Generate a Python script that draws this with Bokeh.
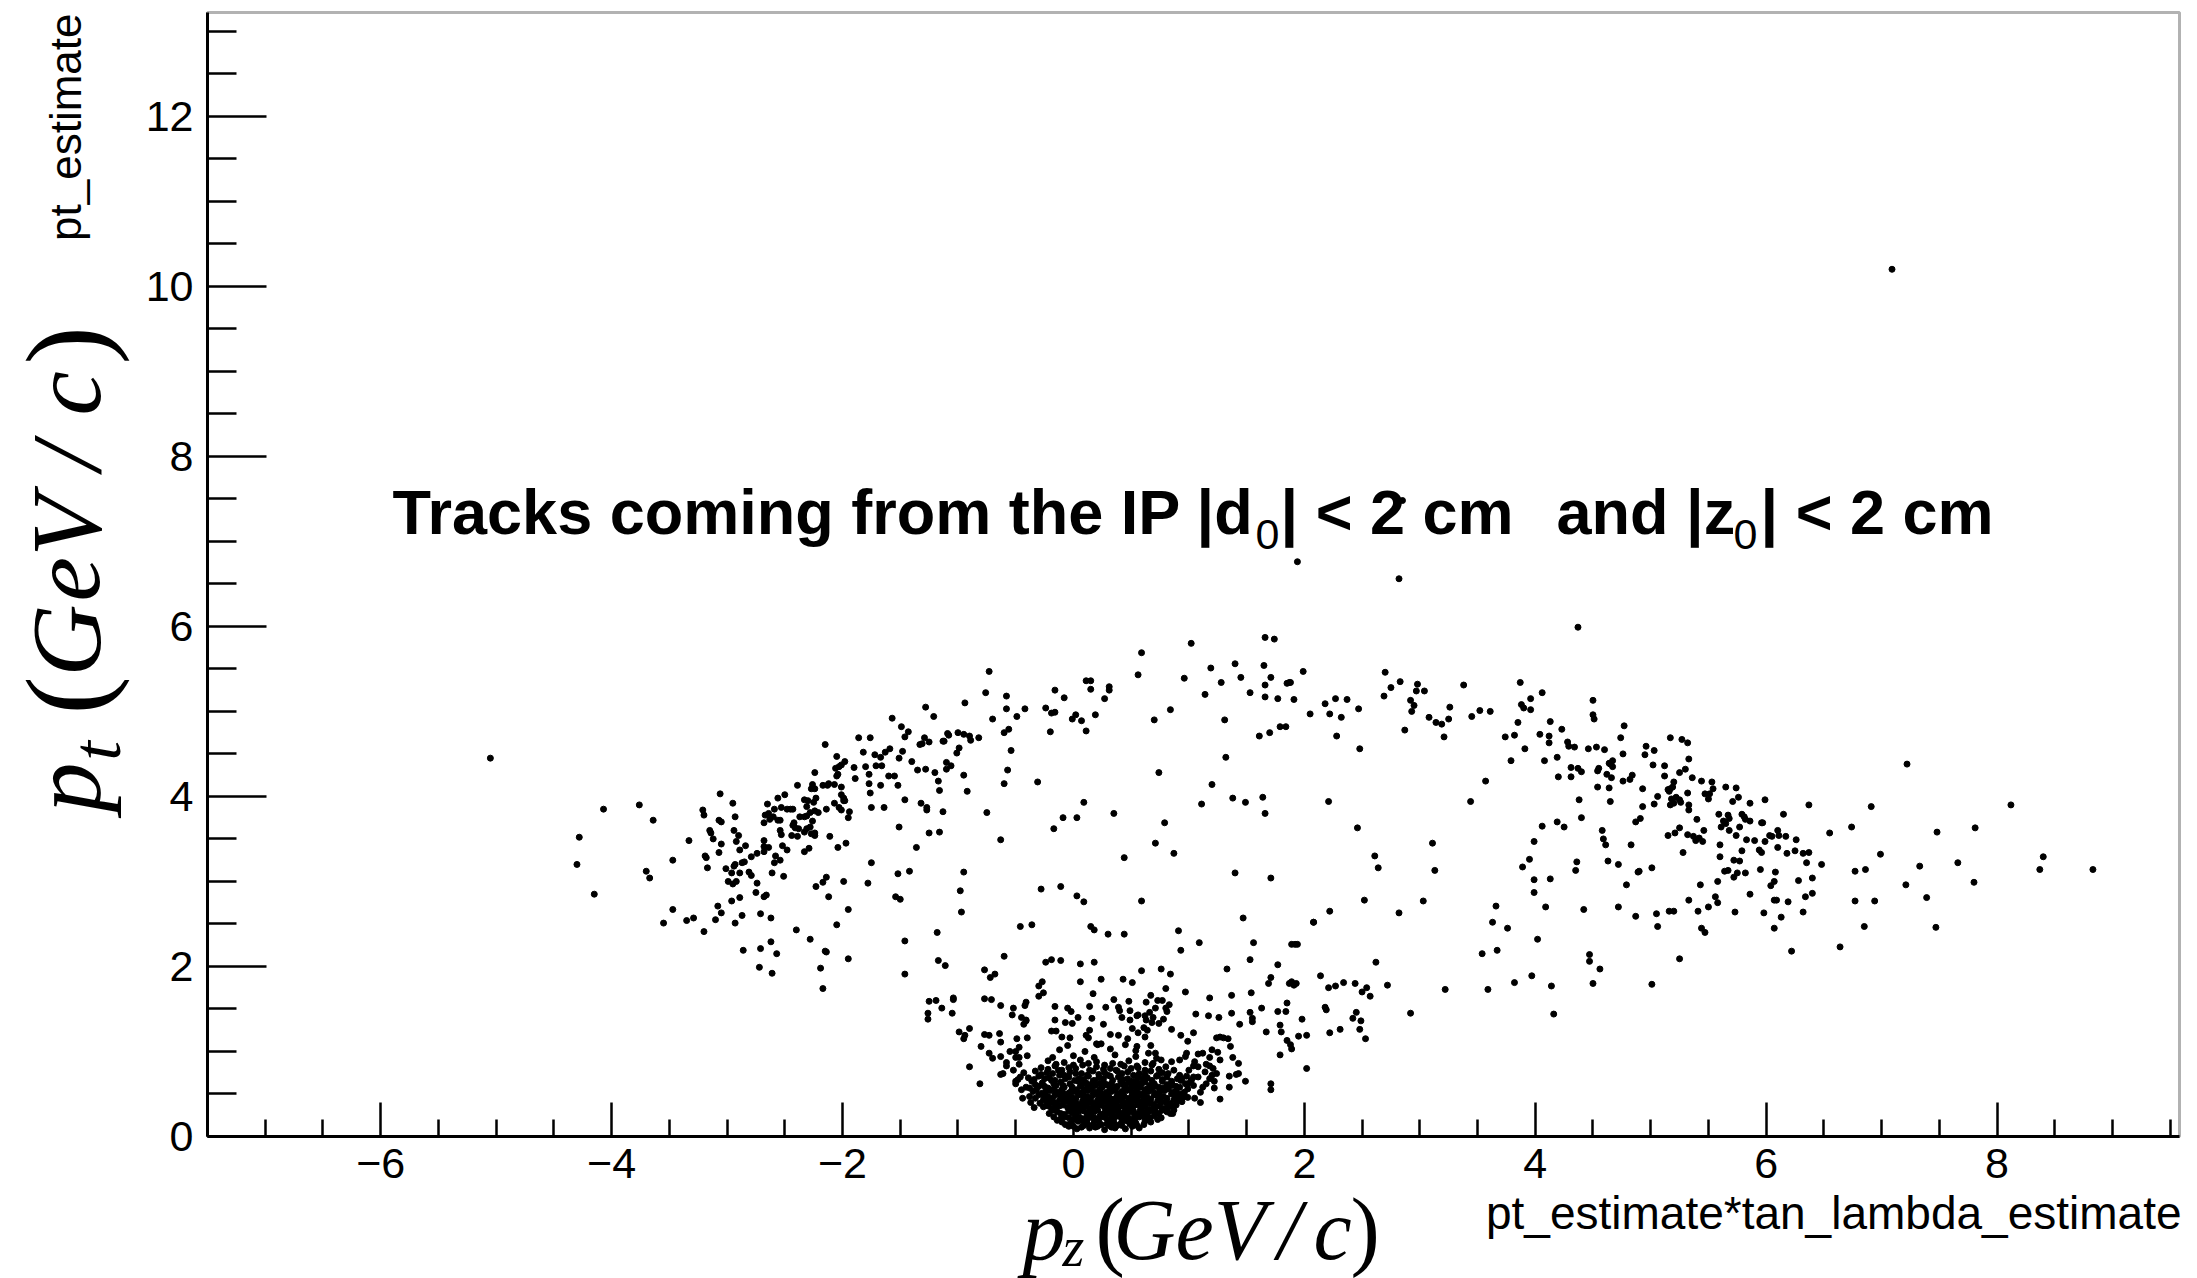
import math
from bokeh.plotting import figure
from bokeh.models import Range1d, FixedTicker, Label, ColumnDataSource, BoxAnnotation
from bokeh.embed import file_html
from bokeh.resources import INLINE

# ---------------- data (pz, pt) ----------------
band_neg_top = [
(-0.73,5.47),(-0.76,5.22),(-0.58,5.18),(-0.58,5.03),(-0.70,4.91),(-0.42,5.03),(-0.49,4.94),(-0.94,5.10),(-1.28,5.05),(-1.21,4.94),
(-1.57,4.92),(-1.49,4.82),(-1.43,4.76),(-1.46,4.70),(-1.29,4.69),(-1.25,4.64),(-1.33,4.61),(-1.31,4.62),(-1.09,4.74),(-1.08,4.72),
(-1.00,4.75),(-0.95,4.73),(-0.90,4.71),(-0.89,4.66),(-0.82,4.69),(-1.12,4.65),(-1.13,4.65),(-0.99,4.57),(-1.01,4.51),(-0.60,4.75),
(-0.56,4.79),(-0.54,4.54),(-0.57,4.31),(-0.60,4.15),(-0.31,4.17),(-0.75,3.81),(-0.63,3.49),(-0.16,5.25),(-0.08,5.16),(-0.24,5.04),
(-0.19,4.98),(-0.16,4.99),(-0.20,4.76),(-0.01,4.91),
]
band_neg_mid = [
(-1.86,4.69),(-1.76,4.69),(-2.15,4.61),(-1.82,4.52),(-1.72,4.49),(-1.67,4.46),(-1.63,4.52),(-1.59,4.56),(-1.48,4.53),(-1.51,4.45),
(-1.40,4.41),(-1.35,4.31),(-1.28,4.32),(-1.20,4.28),(-1.17,4.18),(-1.16,4.07),(-1.10,4.40),(-1.06,4.36),(-1.10,4.32),(-0.95,4.25),
(-0.92,4.06),(-1.80,4.35),(-1.71,4.36),(-1.66,4.36),(-1.60,4.24),(-1.55,4.24),(-1.77,4.26),(-1.77,4.15),(-1.67,4.13),(-1.52,4.13),
(-1.76,4.04),(-1.75,3.87),(-1.64,3.87),(-1.46,3.96),(-1.32,3.92),(-1.27,3.87),(-1.27,3.84),(-1.13,3.82),(-1.90,4.34),(-1.89,4.21),
(-2.05,4.47),(-1.98,4.41),(-2.01,4.37),(-2.06,4.33),(-2.03,4.35),(-2.04,4.26),(-2.05,4.24),(-2.24,4.28),(-2.39,4.13),(-2.26,4.14),
(-2.27,4.09),(-2.24,4.09),(-2.17,4.13),(-2.12,4.15),(-2.13,4.13),(-2.07,4.14),(-2.01,4.11),(-2.01,4.02),(-1.99,3.98),(-1.99,3.95),
(-1.98,3.95),(-2.07,3.92),(-2.03,3.87),(-2.01,3.84),(-1.94,3.82),(-1.95,3.75),(-2.14,3.85),(-2.23,3.98),(-2.25,3.93),(-2.33,3.96),
(-2.30,3.95),(-2.31,3.88),(-2.33,3.76),(-2.31,3.77),(-2.37,3.76),(-2.24,3.83),(-2.21,3.81),(-2.28,3.81),(-2.26,3.71),(-2.28,3.64),
(-2.24,3.57),(-2.24,3.54),(-2.27,3.56),(-2.33,3.58),(-2.31,3.62),(-2.42,3.69),(-2.43,3.66),(-2.41,3.63),(-2.38,3.62),(-2.44,3.54),
(-2.39,3.53),(-2.50,4.02),(-2.56,3.98),(-2.65,3.91),(-2.68,3.69),(-2.67,3.78),(-2.64,3.80),(-2.63,3.73),(-2.59,3.85),(-2.60,3.76),
(-2.56,3.72),(-2.54,3.72),(-2.53,3.87),(-2.48,3.85),(-2.45,3.85),(-2.43,3.85),(-2.54,3.60),(-2.53,3.55),(-2.52,3.42),(-2.48,3.37),
(-2.58,3.30),(-2.68,3.48),(-2.68,3.41),(-2.68,3.35),(-2.64,3.40),(-2.59,3.22),(-2.54,3.25),(-2.61,3.10),(-2.51,3.06),(-2.74,3.33),
(-2.79,3.29),(-2.84,3.42),(-2.85,3.23),(-2.87,3.22),(-2.94,3.60),(-2.90,3.54),(-2.92,3.47),(-2.93,3.76),(-2.95,3.92),(-3.06,4.03),
(-3.21,3.84),(-3.20,3.78),(-3.07,3.72),(-3.05,3.70),(-3.15,3.60),(-3.14,3.57),(-3.12,3.50),(-3.05,3.44),(-3.07,3.34),(-3.19,3.30),
(-3.18,3.28),(-3.17,3.16),(-3.33,3.48),(-3.47,3.25),(-3.64,3.72),(-3.76,3.90),(-4.07,3.85),(-4.28,3.52),(-4.30,3.20),(-4.15,2.85),
(-3.70,3.12),(-3.67,3.04),(-3.01,3.15),(-2.96,3.10),(-2.93,3.20),(-2.94,3.18),(-2.99,3.00),(-2.95,2.97),(-2.92,3.00),(-2.89,3.10),
(-2.89,3.37),(-2.81,3.11),(-2.79,3.07),(-2.74,2.98),(-2.75,2.87),(-2.68,2.82),(-2.66,2.84),(-2.96,2.77),(-2.89,2.81),(-3.08,2.71),
(-3.05,2.63),(-3.10,2.55),(-2.93,2.51),(-2.87,2.60),(-2.71,2.62),(-2.62,2.57),(-3.20,2.41),(-3.29,2.57),(-3.35,2.54),(-3.47,2.67),
(-3.55,2.51),
]
band_neg_low = [
(-2.11,3.53),(-2.04,3.40),(-1.97,3.45),(-2.33,3.35),(-2.29,3.39),(-1.75,3.22),(-1.78,2.98),(-1.52,3.09),(-1.42,3.12),(-1.51,3.64),
(-1.25,3.57),(-1.16,3.58),(-1.36,3.40),(-2.14,3.05),(-2.17,2.99),(-2.23,2.94),(-1.99,3.00),(-2.12,2.82),(-1.95,2.67),(-2.05,2.49),
(-1.54,2.82),(-1.50,2.79),(-0.95,3.11),(-0.98,2.89),(-0.97,2.64),(-0.28,2.91),(-0.11,2.94),(-0.17,3.62),(-0.09,3.75),
(-2.40,2.43),(-2.28,2.32),(-2.62,2.29),(-2.71,2.21),(-2.86,2.19),(-2.57,2.15),(-2.15,2.18),(-2.14,2.17),(-1.95,2.09),(-2.19,1.98),
(-2.72,1.99),(-2.61,1.92),(-2.17,1.74),
]
band_pos_mid = [
(0.11,5.36),(0.15,5.36),(0.15,5.26),(0.02,4.96),(0.07,4.89),(0.19,4.96),(0.11,4.77),(0.27,5.15),(0.31,5.29),(0.31,5.25),
(0.56,5.43),(0.59,5.69),(1.02,5.80),(0.96,5.39),(0.84,5.02),(0.70,4.90),(1.14,5.20),(1.19,5.51),(1.28,5.34),(1.40,5.56),
(1.45,5.40),(1.53,5.22),(1.65,5.54),(1.66,5.87),(1.74,5.85),(1.71,5.40),(1.66,5.31),(1.66,5.17),(1.77,5.15),(1.85,5.33),
(1.87,5.34),(1.88,5.34),(1.91,5.14),(1.99,5.47),(1.31,4.90),(1.61,4.71),(1.70,4.75),(1.79,4.82),(1.84,4.82),(2.05,4.97),
(2.18,5.09),(2.22,4.97),(2.27,5.15),(2.37,5.14),(2.32,4.93),(2.28,4.71),(2.47,5.03),(2.48,4.56),(1.32,4.46),(0.74,4.28),
(1.20,4.14),(1.11,3.91),(1.38,3.98),(1.49,3.93),(1.64,3.99),(1.66,3.80),(2.21,3.94),(2.46,3.63),(2.70,5.46),(2.75,5.28),
(2.69,5.18),(2.83,5.35),(2.92,5.13),(2.95,5.07),(2.93,5.00),(2.98,5.32),(2.97,5.24),(3.04,5.24),(3.08,4.93),(3.14,4.87),
(3.19,4.85),(3.25,4.91),(3.26,5.05),(3.21,4.70),(2.87,4.78),(3.38,5.31),(3.45,4.94),(3.52,5.01),(3.61,5.00),(3.87,5.34),
(3.96,5.15),(3.88,5.08),(3.90,5.04),(3.96,5.02),(4.06,5.22),(3.85,4.87),(3.74,4.70),(3.82,4.72),(3.91,4.56),(4.04,4.73),
(4.13,4.88),(4.12,4.71),(4.12,4.63),(4.08,4.42),(4.19,4.46),(3.79,4.42),(3.57,4.18),(3.44,3.94),(4.23,4.79),(4.28,4.64),
(4.29,4.59),(4.34,4.58),(4.31,4.34),(4.37,4.33),(4.31,4.23),(4.20,4.23),(4.38,3.96),(4.40,3.75),(4.25,3.64),(4.19,3.70),
(4.06,3.65),(3.99,3.47),(3.95,3.26),(3.89,3.17),(3.99,3.02),(3.99,2.87),(4.13,3.03),(4.09,2.70),(4.36,3.23),(4.35,3.13),
(4.37,5.99),
(0.03,3.75),(0.09,3.93),(0.35,3.80),(0.79,3.69),(0.71,3.45),(0.87,3.33),(0.44,3.28),(0.03,2.83),(0.09,2.76),(0.59,2.77),
(1.40,3.10),(1.71,3.04),(2.61,3.30),(2.64,3.16),(3.11,3.45),(3.13,3.13),(2.52,2.78),(2.22,2.65),(2.08,2.52),(1.47,2.57),
(3.03,2.77),(2.82,2.63),(3.66,2.71),(3.63,2.52),(3.76,2.45),(4.02,2.32),(3.67,2.19),(3.54,2.15),(3.97,1.89),(3.82,1.81),
(3.59,1.73),(4.14,1.77),(3.22,1.73),(4.16,1.44),(2.92,1.45),
]
band_pos_right = [
(4.40,4.29),(4.50,5.13),(4.50,4.96),(4.51,4.91),(4.46,4.56),(4.53,4.58),(4.60,4.55),(4.54,4.30),(4.55,4.33),(4.62,4.26),
(4.65,4.38),(4.67,4.35),(4.67,4.42),(4.64,4.39),(4.66,4.22),(4.54,4.11),(4.64,4.10),(4.65,3.94),(4.58,3.60),(4.59,3.50),
(4.61,3.43),(4.63,3.24),(4.72,3.20),(4.42,2.67),(4.74,4.69),(4.77,4.83),(4.76,4.50),(4.76,4.18),(4.84,4.25),(4.82,4.20),
(4.93,4.09),(4.96,4.59),(4.95,4.49),(5.03,4.54),(5.02,4.37),(5.12,4.36),(5.12,4.24),(5.17,4.69),(5.27,4.67),(5.32,4.63),
(5.33,4.44),(5.30,4.32),(5.25,4.28),(5.20,4.17),(5.15,4.08),(5.17,4.09),(5.19,4.11),(5.16,4.06),(5.18,3.97),(5.22,3.99),
(5.25,3.96),(5.26,3.93),(5.20,3.92),(5.17,3.90),(5.06,4.00),(5.03,3.91),(4.93,3.88),(4.91,3.74),(4.87,3.70),(4.83,3.43),
(4.79,2.96),(4.89,3.11),(4.90,3.12),(5.01,3.16),(4.72,2.70),(4.87,2.59),(5.05,2.62),(5.06,2.47),(5.16,2.65),(5.20,2.65),
(5.32,4.04),(5.33,3.90),(5.33,3.84),(5.36,4.22),(5.40,3.73),(5.44,4.18),(5.47,4.03),(5.51,4.03),(5.50,3.97),(5.53,4.17),
(5.54,4.09),(5.65,4.11),(5.74,4.10),(5.76,3.99),(5.71,3.94),(5.86,3.92),(5.99,3.96),(5.59,3.79),(5.67,3.78),(5.68,3.74),
(5.63,3.71),(5.65,3.68),(5.61,3.64),(5.68,3.60),(5.77,3.64),(5.79,3.79),(5.81,3.76),(5.82,3.73),(5.86,3.71),(5.74,3.54),
(5.83,3.49),(5.90,3.48),(5.96,3.69),(5.97,3.69),(5.99,3.47),(6.03,3.54),(6.05,3.53),(6.10,3.60),(6.11,3.54),(6.17,3.53),
(6.26,3.49),(6.15,3.79),(6.10,3.40),(6.18,3.33),(6.25,3.36),(6.32,3.33),(6.37,3.34),(6.35,3.22),(6.48,3.20),(6.40,3.04),
(6.28,3.01),(6.40,2.86),(6.34,2.82),(6.19,2.76),(6.32,2.64),(6.13,2.58),(6.07,2.45),(5.98,2.63),(6.07,2.78),(6.09,2.78),
(6.07,3.00),(6.04,2.95),(6.08,3.11),(5.95,3.14),(5.96,3.34),(5.94,3.37),(5.79,3.36),(5.82,3.10),(5.75,3.10),(5.72,3.05),
(5.77,3.24),(5.72,3.25),(5.67,3.13),(5.64,3.12),(5.60,3.29),(5.60,3.43),(5.58,3.00),(5.56,2.82),(5.58,2.75),(5.50,2.70),
(5.41,2.65),(5.43,2.96),(5.33,2.78),(5.25,3.63),(5.21,3.57),(5.15,3.54),(5.32,3.55),(5.37,3.53),(5.39,3.48),(5.42,3.51),
(5.45,3.47),(5.46,3.60),(5.28,3.34),(5.73,2.64),(5.86,2.85),(5.44,2.45),(5.47,2.40),(5.25,2.09),(5.01,1.79),(4.50,1.80),
(4.56,1.97),(4.47,2.14),(4.47,2.06),(6.22,2.18),(6.64,2.23),(6.37,3.90),(6.55,3.57),(6.74,3.64),(6.77,3.12),(6.86,3.14),
(6.99,3.32),(6.77,2.77),(6.94,2.77),(6.85,2.47),(6.91,3.88),(7.22,4.38),(7.33,3.18),(7.21,2.96),(7.39,2.81),(7.47,2.46),
(7.48,3.58),(7.66,3.22),(7.81,3.63),(7.80,2.99),(8.12,3.90),(8.37,3.14),(8.40,3.29),(8.83,3.14),
]
low_spread = [
(-1.46,2.30),(-1.46,1.91),(-1.18,2.40),(-1.17,2.07),(-1.11,2.01),(-0.46,2.47),(-0.36,2.49),(0.15,2.47),(0.18,2.43),(0.30,2.38),
(0.44,2.38),(0.91,2.42),(0.93,2.19),(1.09,2.28),(1.56,2.28),(1.53,2.08),(1.77,2.02),(1.89,2.26),(1.92,2.26),(1.94,2.26),
(2.08,2.52),(2.62,2.05),(2.72,1.78),(2.14,1.89),(2.21,1.75),(2.27,1.77),(2.34,1.81),(2.44,1.80),(2.54,1.75),(2.50,1.70),
(2.57,1.65),(2.45,1.46),(2.42,1.39),(2.49,1.36),(2.48,1.26),(2.53,1.15),(2.22,1.22),(2.31,1.26),(2.18,1.52),(2.19,1.49),
(1.98,1.38),(1.95,1.18),(2.02,1.19),(2.02,0.80),(1.87,1.80),(1.89,1.82),(1.91,1.78),(1.93,1.80),(1.85,1.57),(1.84,1.47),
(1.77,1.47),(1.79,1.31),(1.80,1.23),(1.67,1.23),(1.71,1.87),(1.69,1.80),(1.63,1.51),(1.54,1.69),(1.53,1.46),(1.55,1.39),
(1.55,1.35),(1.44,1.32),(1.37,1.66),(1.37,1.45),(1.33,1.97),(1.18,1.63),(1.17,1.42),(1.26,1.40),(1.06,1.44),(0.97,1.70),
(1.85,1.13),(1.88,1.08),(1.89,1.03),(1.79,0.96),(1.71,0.62),(1.71,0.55),(1.49,0.65),(1.43,0.74),(1.43,0.86),(1.38,0.93),
(1.36,1.06),(1.41,0.73),(1.35,0.71),(1.35,0.58),(1.27,0.44),(1.22,0.57),(1.22,0.65),(1.20,0.72),(1.21,0.80),(1.18,0.83),
(1.15,0.85),(1.18,0.93),(1.20,1.02),(1.25,0.99),(1.27,1.17),(1.24,1.16),(1.30,1.16),(1.34,1.15),(1.27,0.90),(1.08,0.97),
(1.12,0.98),(1.04,1.22),(0.99,1.12),(0.93,1.19),(0.85,1.26),(0.84,1.91),(0.80,1.74),(0.76,1.97),(0.59,1.95),(0.43,1.85),
(0.51,1.81),(0.24,1.85),(0.18,2.05),(0.06,2.03),(0.06,1.82),(-0.11,2.07),(-0.19,2.08),(-0.24,2.05),(-0.27,1.82),(-0.30,1.77),
(-0.26,1.69),(-0.30,1.65),(0.17,1.68),(-0.16,1.53),(-0.05,1.51),(-0.02,1.47),(0.04,1.40),(0.16,1.39),(0.14,1.53),(0.28,1.52),
(0.35,1.61),(0.39,1.52),(0.40,1.48),(0.48,1.59),(0.49,1.48),(0.42,1.40),(0.49,1.37),(0.55,1.42),(0.63,1.37),(0.63,1.58),
(0.67,1.66),(0.73,1.60),(0.77,1.60),(0.83,1.55),(0.80,1.51),(0.81,1.47),(0.78,1.38),(0.74,1.33),(0.68,1.34),(0.66,1.46),
(0.71,1.51),(0.69,1.40),(0.56,1.43),(0.62,1.42),(0.61,1.28),(0.64,1.25),(0.56,1.22),(0.51,1.27),(0.62,1.17),(0.67,1.07),
(0.71,0.98),(0.65,0.98),(0.55,1.06),(0.47,1.15),(0.39,1.19),(0.32,1.20),(0.26,1.32),(0.14,1.25),(0.11,1.19),(0.13,1.16),
(0.24,1.09),(0.21,1.08),(-0.01,1.33),(-0.07,1.34),(-0.16,1.37),(-0.19,1.24),(-0.15,1.24),(-0.10,1.17),(-0.03,1.16),(-0.40,1.16),
(-0.41,1.37),(-0.43,1.32),(-0.41,1.36),(-0.45,1.40),(-0.52,1.51),(-0.53,1.43),(-0.42,1.54),(-0.41,1.58),(-0.63,1.54),(-0.77,1.62),
(-0.71,1.61),(-0.60,2.12),(-0.77,1.96),(-0.72,1.87),(-0.68,1.91),(-1.04,1.63),(-1.04,1.61),(-1.05,1.45),(-1.14,1.51),(-1.19,1.60),
(-1.25,1.59),(-1.26,1.45),(-1.26,1.38),(-0.99,1.23),(-0.94,1.19),(-0.90,1.27),(-0.95,1.15),(-0.77,1.20),(-0.73,1.19),(-0.80,1.06),
(-0.64,1.21),(-0.63,1.11),(-0.63,0.94),(-0.70,0.92),(-0.73,0.98),(-0.58,0.87),(-0.58,0.83),(-0.55,1.00),(-0.49,1.15),(-0.50,1.00),
(-0.47,1.05),(-0.47,0.93),(-0.50,0.93),(-0.90,0.82),(-0.81,0.62),(-0.63,0.73),(-0.61,0.74),(-0.50,0.65),(-0.48,0.67),(-0.50,0.62),
(-0.46,0.70),
(0.85,0.88),(0.92,0.90),(0.97,0.94),(1.04,0.83),(1.08,0.82),(1.12,0.58),(1.04,0.70),(0.99,0.62),(0.92,0.46),(0.87,0.31),
(0.86,0.27),(0.96,0.49),(1.02,0.66),(-0.37,0.40),(-0.34,0.34),(-0.38,0.47),(-0.41,0.58),
(1.05,0.45),(1.10,0.52),(1.15,0.62),(1.08,0.70),(1.14,0.76),(1.00,0.78),(1.05,0.88),(0.98,0.98),(1.10,0.40),(1.18,0.68),
(1.24,0.74),(-0.45,0.55),(-0.43,0.75),(-0.47,0.85),(-0.40,0.95),(-0.52,0.78),(-0.44,0.45),
]
core = [
(-0.04,0.12),(0.03,0.09),(0.09,0.13),(0.14,0.10),(0.21,0.12),(0.27,0.08),(0.33,0.11),(0.38,0.13),(0.45,0.09),(0.51,0.12),(0.57,0.10),
(-0.10,0.17),(-0.03,0.15),(0.04,0.18),(0.10,0.16),(0.17,0.14),(0.22,0.18),(0.29,0.15),(0.35,0.17),(0.41,0.15),(0.47,0.18),(0.54,0.16),
(0.61,0.14),(0.67,0.17),
(-0.17,0.23),(-0.11,0.21),(-0.04,0.22),(0.02,0.24),(0.08,0.21),(0.15,0.23),(0.20,0.20),(0.26,0.23),(0.33,0.21),(0.39,0.24),(0.44,0.22),
(0.50,0.20),(0.57,0.23),(0.63,0.21),(0.70,0.24),(0.76,0.22),
(-0.21,0.27),(-0.14,0.29),(-0.08,0.26),(-0.01,0.28),(0.05,0.30),(0.12,0.27),(0.18,0.29),(0.24,0.26),(0.30,0.28),(0.36,0.30),(0.42,0.27),
(0.49,0.29),(0.55,0.26),(0.61,0.28),(0.68,0.30),(0.74,0.27),(0.81,0.29),
(-0.26,0.35),(-0.19,0.33),(-0.12,0.36),(-0.05,0.34),(0.01,0.32),(0.08,0.35),(0.14,0.33),(0.21,0.36),(0.27,0.34),(0.33,0.32),(0.40,0.35),
(0.46,0.33),(0.52,0.36),(0.59,0.34),(0.65,0.32),(0.72,0.35),(0.79,0.33),(0.86,0.36),
(-0.29,0.39),(-0.22,0.41),(-0.15,0.39),(-0.08,0.42),(-0.02,0.40),(0.05,0.38),(0.11,0.41),(0.18,0.39),(0.24,0.42),(0.31,0.40),(0.37,0.38),
(0.43,0.41),(0.50,0.39),(0.56,0.42),(0.63,0.40),(0.69,0.38),(0.76,0.41),(0.83,0.39),(0.90,0.42),
(-0.33,0.45),(-0.25,0.47),(-0.18,0.45),(-0.11,0.48),(-0.04,0.46),(0.02,0.44),(0.09,0.47),(0.15,0.45),(0.22,0.48),(0.28,0.46),(0.35,0.44),
(0.41,0.47),(0.48,0.45),(0.54,0.48),(0.61,0.46),(0.67,0.44),(0.74,0.47),(0.81,0.45),(0.88,0.48),(0.95,0.46),
(-0.35,0.53),(-0.27,0.51),(-0.20,0.54),(-0.13,0.52),(-0.06,0.50),(0.00,0.53),(0.07,0.51),(0.13,0.54),(0.20,0.52),(0.26,0.50),(0.33,0.53),
(0.39,0.51),(0.46,0.54),(0.52,0.52),(0.59,0.50),(0.65,0.53),(0.72,0.51),(0.79,0.54),(0.86,0.52),(0.93,0.50),
(-0.38,0.57),(-0.30,0.59),(-0.22,0.57),(-0.15,0.60),(-0.08,0.58),(-0.01,0.56),(0.06,0.59),(0.12,0.57),(0.19,0.60),(0.25,0.58),(0.32,0.56),
(0.38,0.59),(0.45,0.57),(0.51,0.60),(0.58,0.58),(0.64,0.56),(0.71,0.59),(0.78,0.57),(0.85,0.60),(0.92,0.58),(0.99,0.56),
(-0.36,0.65),(-0.27,0.63),(-0.19,0.66),(-0.11,0.64),(-0.03,0.62),(0.04,0.65),(0.11,0.63),(0.18,0.66),(0.26,0.64),(0.33,0.62),(0.41,0.65),
(0.48,0.63),(0.55,0.66),(0.62,0.64),(0.70,0.62),(0.77,0.65),(0.85,0.63),(0.93,0.66),
(-0.39,0.69),(-0.30,0.71),(-0.21,0.69),(-0.12,0.72),(-0.04,0.70),(0.05,0.68),(0.13,0.71),(0.22,0.69),(0.30,0.72),(0.39,0.70),(0.47,0.68),
(0.56,0.71),(0.64,0.69),(0.73,0.72),(0.81,0.70),(0.90,0.68),(0.98,0.71),
(-0.33,0.77),(-0.23,0.75),(-0.13,0.78),(-0.03,0.76),(0.07,0.74),(0.17,0.77),(0.27,0.75),(0.37,0.78),(0.47,0.76),(0.57,0.74),(0.67,0.77),
(0.77,0.75),(0.87,0.78),
(-0.28,0.81),(-0.16,0.83),(-0.04,0.81),(0.08,0.84),(0.20,0.82),(0.32,0.80),(0.44,0.83),(0.56,0.81),(0.68,0.84),(0.80,0.82),
(-0.22,0.89),(-0.08,0.87),(0.06,0.90),(0.20,0.88),(0.34,0.86),(0.48,0.89),(0.62,0.87),(0.76,0.90),
(-0.18,0.93),(0.00,0.95),(0.18,0.93),(0.36,0.96),(0.54,0.94),(0.72,0.92),
(-0.12,1.02),(0.10,1.00),(0.32,1.03),(0.54,1.01),(-0.05,1.07),(0.20,1.09),(0.45,1.08),
(0.06,0.19),(0.18,0.19),(0.31,0.19),(0.44,0.19),(0.12,0.25),(0.27,0.25),(0.40,0.25),(0.53,0.25),(0.02,0.31),(0.17,0.31),(0.30,0.31),
(0.45,0.31),(0.58,0.31),(0.08,0.37),(0.21,0.37),(0.34,0.37),(0.47,0.37),(0.60,0.37),(-0.05,0.43),(0.12,0.43),(0.25,0.43),(0.38,0.43),
(0.51,0.43),(0.64,0.43),(0.04,0.49),(0.17,0.49),(0.30,0.49),(0.43,0.49),(0.57,0.49),(-0.10,0.55),(0.10,0.55),(0.23,0.55),(0.36,0.55),
(0.49,0.55),(0.62,0.55),(0.15,0.61),(0.29,0.61),(0.43,0.61),(0.55,0.61),(-0.16,0.49),(0.70,0.49),(-0.22,0.36),(0.70,0.31),
]
core_dense = [
(-0.07,0.14),(0.00,0.12),(0.07,0.11),(0.12,0.15),(0.19,0.11),(0.24,0.14),(0.31,0.13),(0.36,0.10),(0.42,0.13),(0.49,0.15),(0.55,0.13),(0.62,0.18),
(-0.14,0.19),(-0.07,0.23),(0.00,0.20),(0.05,0.23),(0.12,0.20),(0.18,0.22),(0.23,0.24),(0.29,0.21),(0.36,0.23),(0.42,0.20),(0.47,0.23),(0.53,0.21),
(0.60,0.24),(0.66,0.22),(0.73,0.20),
(-0.18,0.31),(-0.11,0.27),(-0.04,0.30),(0.02,0.27),(0.09,0.30),(0.15,0.27),(0.21,0.31),(0.27,0.28),(0.33,0.26),(0.39,0.29),(0.45,0.27),(0.52,0.30),
(0.58,0.28),(0.64,0.26),(0.71,0.29),(0.77,0.31),(0.84,0.27),
(-0.23,0.37),(-0.16,0.34),(-0.09,0.37),(-0.02,0.35),(0.04,0.33),(0.11,0.36),(0.17,0.34),(0.24,0.37),(0.30,0.35),(0.37,0.33),(0.43,0.36),(0.49,0.34),
(0.56,0.37),(0.62,0.35),(0.69,0.33),(0.75,0.36),(0.82,0.34),(0.89,0.37),
(-0.26,0.43),(-0.19,0.40),(-0.12,0.43),(-0.05,0.41),(0.01,0.39),(0.08,0.42),(0.14,0.40),(0.21,0.43),(0.28,0.41),(0.34,0.39),(0.40,0.42),(0.47,0.40),
(0.53,0.43),(0.60,0.41),(0.66,0.39),(0.73,0.42),(0.80,0.40),(0.87,0.43),(0.94,0.41),
(-0.30,0.49),(-0.22,0.47),(-0.15,0.50),(-0.08,0.48),(-0.01,0.46),(0.05,0.49),(0.12,0.47),(0.18,0.50),(0.25,0.48),(0.31,0.46),(0.38,0.49),(0.44,0.47),
(0.51,0.50),(0.57,0.48),(0.64,0.46),(0.71,0.49),(0.78,0.47),(0.85,0.50),(0.92,0.48),(0.99,0.46),
(-0.32,0.55),(-0.24,0.53),(-0.17,0.56),(-0.10,0.54),(-0.03,0.52),(0.03,0.55),(0.09,0.53),(0.16,0.56),(0.23,0.54),(0.29,0.52),(0.36,0.55),(0.42,0.53),
(0.49,0.56),(0.55,0.54),(0.62,0.52),(0.68,0.55),(0.75,0.53),(0.82,0.56),(0.89,0.54),(0.96,0.52),
(-0.33,0.61),(-0.25,0.59),(-0.17,0.62),(-0.09,0.60),(-0.01,0.58),(0.07,0.61),(0.15,0.59),(0.22,0.62),(0.30,0.60),(0.37,0.58),(0.44,0.61),(0.52,0.59),
(0.59,0.62),(0.66,0.60),(0.74,0.58),(0.81,0.61),(0.89,0.59),(0.97,0.62),(1.04,0.60),
(-0.34,0.67),(-0.25,0.68),(-0.16,0.66),(-0.07,0.68),(0.01,0.66),(0.09,0.67),(0.17,0.65),(0.26,0.68),(0.34,0.66),(0.43,0.67),(0.51,0.65),(0.60,0.68),
(0.68,0.66),(0.77,0.67),(0.85,0.65),(0.94,0.68),(1.02,0.66),
(-0.28,0.73),(-0.18,0.74),(-0.08,0.72),(0.02,0.74),(0.12,0.72),(0.22,0.73),(0.32,0.71),(0.42,0.74),(0.52,0.72),(0.62,0.73),(0.72,0.71),(0.82,0.74),
(0.92,0.72),
(-0.22,0.79),(-0.10,0.78),(0.02,0.80),(0.14,0.78),(0.26,0.79),(0.38,0.77),(0.50,0.80),(0.62,0.78),(0.74,0.79),
(-0.15,0.85),(0.00,0.84),(0.13,0.86),(0.27,0.84),(0.41,0.85),(0.55,0.83),(0.69,0.86),
]
outliers = [(-5.05,4.45),(7.09,10.20),(1.94,6.76),(2.82,6.56),(2.85,7.48)]

x_major = [-6, -4, -2, 0, 2, 4, 6, 8]
x_tick_labels = ["\u22126", "\u22124", "\u22122", "0", "2", "4", "6", "8"]
y_major = [0, 2, 4, 6, 8, 10, 12]
y_tick_labels = ["0", "2", "4", "6", "8", "10", "12"]

# ---------------- layout (pixels of the 2197x1278 page) ----------------
W, H = 2197, 1278
FL, FR, FT, FB = 207, 18, 12, 142          # ROOT frame borders
AX0, AX1 = -7.5, 9.58                        # frame range in x
AY0, AY1 = 0.0, 13.22                        # frame range in y
kx = (AX1 - AX0) / (W - FL - FR)
ky = (AY1 - AY0) / (H - FT - FB)
XL, XR = AX0 - FL * kx, AX1 + FR * kx         # whole canvas in data units
YB, YT = AY0 - FB * ky, AY1 + FT * ky

def dx(px):
    return XL + px * kx

def dy(py):
    return YT - py * ky

allpts = (band_neg_top + band_neg_mid + band_neg_low + band_pos_mid + band_pos_right
          + low_spread + core + core_dense + outliers)
src = ColumnDataSource(data=dict(pz=[a for a, b in allpts], pt=[b for a, b in allpts]))

p = figure(width=W, height=H, x_range=Range1d(XL, XR), y_range=Range1d(YB, YT),
           output_backend="svg", toolbar_location=None, title=None, min_border=0)
p.background_fill_color = "white"
p.border_fill_color = "white"
p.outline_line_color = None
p.grid.visible = False

# ROOT frame box
p.add_layout(BoxAnnotation(left=AX0, right=AX1, bottom=AY0, top=AY1, fill_color=None,
                           line_color="black", line_width=3, level="overlay"))

x_minor = [k * 0.5 for k in range(-15, 20) if k % 4 != 0]
y_minor = [k * 0.5 for k in range(1, 27) if k % 4 != 0]
p.xaxis.ticker = FixedTicker(ticks=x_major, minor_ticks=x_minor)
p.yaxis.ticker = FixedTicker(ticks=y_major, minor_ticks=y_minor)
p.xaxis.major_label_overrides = {t: l for t, l in zip(x_major, x_tick_labels)}
p.yaxis.major_label_overrides = {t: l for t, l in zip(y_major, y_tick_labels)}
p.xaxis.fixed_location = AY0
p.yaxis.fixed_location = AX0
p.xaxis.bounds = (AX0, AX1)
p.yaxis.bounds = (AY0, AY1)

for ax, mj, mn, so in ((p.xaxis, 34, 17, 12), (p.yaxis, 59, 29, 14)):
    ax.axis_line_width = 3
    ax.axis_line_color = "black"
    ax.major_tick_in = mj
    ax.major_tick_out = 0
    ax.minor_tick_in = mn
    ax.minor_tick_out = 0
    ax.major_tick_line_width = 2.5
    ax.minor_tick_line_width = 2.5
    ax.major_tick_line_color = "black"
    ax.minor_tick_line_color = "black"
    ax.major_label_text_font = "Liberation Sans"
    ax.major_label_text_font_size = "43px"
    ax.major_label_text_color = "black"
    ax.major_label_standoff = so

p.scatter("pz", "pt", source=src, size=6, marker="circle", color="black")

SANS, SER = "Liberation Sans", "Liberation Serif"

def lab(px, py, text, size, font=SANS, style="normal", align="left", angle=0.0):
    # px, py: position of the text's vertical centre line (page pixels)
    p.add_layout(Label(x=dx(px), y=dy(py), text=text, text_font=font, text_font_size=f"{size}px",
                       text_font_style=style, text_align=align, text_baseline="middle",
                       angle=angle, text_color="black"))

# cut text (bold, subscripts in normal weight)
lab(392, 511, "Tracks coming from the IP |d", 63, style="bold")
lab(1255, 534, "0", 43)
lab(1280, 511, "| < 2 cm", 63, style="bold")
lab(1556, 511, "and |z", 63, style="bold")
lab(1733, 534, "0", 43)
lab(1760, 511, "| < 2 cm", 63, style="bold")

# tree variable names
lab(2181, 1212, "pt_estimate*tan_lambda_estimate", 46, align="right")
lab(65, 13, "pt_estimate", 44, align="right", angle=math.pi / 2)

# x title  p_z(GeV/c)
lab(1022, 1229, "p", 86, SER, "italic")
lab(1062, 1246, "z", 56, SER, "italic")
lab(1095, 1229, "(", 88, SER, "normal")
lab(1113, 1229, "GeV", 86, SER, "italic")
lab(1277, 1229, "/", 86, SER, "italic")
lab(1313, 1229, "c", 86, SER, "italic")
lab(1350, 1229, ")", 88, SER, "normal")

# y title  p_t(GeV/c), rotated
R = math.pi / 2
lab(66, 812, "p", 100, SER, "italic", angle=R)
lab(96, 760, "t", 70, SER, "italic", angle=R)
lab(66, 714, "(", 115, SER, "normal", angle=R)
lab(66, 676, "G", 100, SER, "italic", angle=R)
lab(66, 601, "e", 100, SER, "italic", angle=R)
lab(66, 556, "V", 100, SER, "italic", angle=R)
lab(66, 470, "/", 100, SER, "italic", angle=R)
lab(66, 415, "c", 100, SER, "italic", angle=R)
lab(66, 364, ")", 115, SER, "normal", angle=R)

open("out.html", "w").write(file_html(p, INLINE))
